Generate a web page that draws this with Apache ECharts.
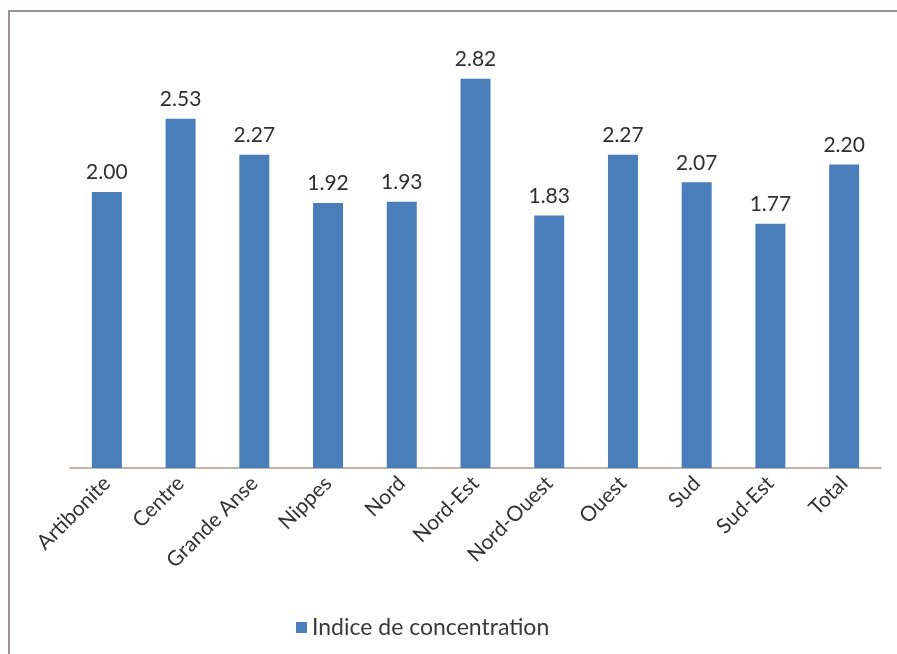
<!DOCTYPE html>
<html><head><meta charset="utf-8">
<script src="https://cdn.jsdelivr.net/npm/echarts@6/dist/echarts.min.js"></script>
<style>html,body{margin:0;padding:0;background:#fff}#c{width:897px;height:654px}</style>
</head><body><div id="c"></div>
<script>
const categories = ["Artibonite","Centre","Grande Anse","Nippes","Nord","Nord-Est","Nord-Ouest","Ouest","Sud","Sud-Est","Total"];
const values = [2.00, 2.53, 2.27, 1.92, 1.93, 2.82, 1.83, 2.27, 2.07, 1.77, 2.20];
const seriesName = "Indice de concentration";

const chart = echarts.init(document.getElementById('c'), null, {renderer:'canvas'});
chart.setOption({
  animation:false,
  backgroundColor:'#fff',
  textStyle:{fontFamily:'Lato, "Open Sans", sans-serif'},
  graphic:[{type:'rect', shape:{x:9, y:11, width:1000, height:1000}, style:{fill:'none', stroke:'#9a9290', lineWidth:2}, silent:true, z:-1}],
  grid:{left:70, right:16, top:54, bottom:186},
  legend:{data:[seriesName], left:291, top:611, itemWidth:11, itemHeight:11, icon:'rect', itemGap:6,
    textStyle:{fontSize:23, color:'#3a3a3a', fontFamily:'Lato, sans-serif'}},
  xAxis:{type:'category', data:categories,
    axisLine:{lineStyle:{color:'#a89d92', width:1.5}},
    axisTick:{show:false},
    axisLabel:{rotate:45, fontSize:21, color:'#333', margin:12, interval:0, fontFamily:'Lato, sans-serif'}},
  yAxis:{type:'value', min:0, max:3, show:false, splitLine:{show:false}},
  series:[{name:seriesName, type:'bar', data:values, barWidth:30,
    itemStyle:{color:'#4a7ebb'},
    label:{show:true, position:'top', distance:9, fontSize:21, color:'#2f2f2f', fontFamily:'Lato, sans-serif',
      formatter:p=>p.value.toFixed(2)}}]
});
</script></body></html>
